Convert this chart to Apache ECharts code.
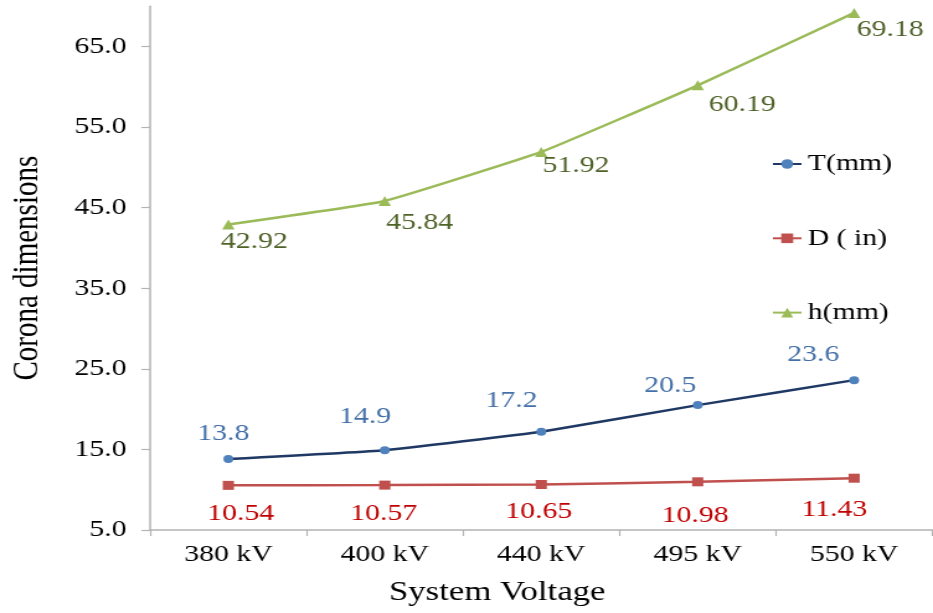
<!DOCTYPE html>
<html>
<head>
<meta charset="utf-8">
<title>Corona dimensions vs System Voltage</title>
<script src="https://cdn.jsdelivr.net/npm/echarts@6/dist/echarts.min.js"></script>
<style>
  html, body { margin: 0; padding: 0; background: #fff; overflow: hidden; }
  #wrap { width: 933px; height: 613px; overflow: hidden; }
  /* the figure is laid out at a narrower width and widened horizontally */
  #chart { width: 752px; height: 613px; transform: scaleX(1.2407); transform-origin: 0 0; }
</style>
</head>
<body>
<div id="wrap"><div id="chart"></div></div>
<script>
// Categories and series values
const voltages = ['380 kV', '400 kV', '440 kV', '495 kV', '550 kV'];
const tValues = [13.8, 14.9, 17.2, 20.5, 23.6];
const dValues = [10.54, 10.57, 10.65, 10.98, 11.43];
const hValues = [42.92, 45.84, 51.92, 60.19, 69.18];
const yTicks = [5, 15, 25, 35, 45, 55, 65];

// Hand-placed data label nudges [dx, dy] relative to each point
const tLabelShift = [[-4, -25], [-16, -34], [-24, -31], [-22, -19], [-33, -25]];
const dLabelShift = [[10, 28], [-1, 29], [-2, 27], [-2, 34], [-16, 32]];
const hLabelShift = [[21, 17], [28, 22], [28, 14], [36, 19], [29, 17]];

const FONT = '"Liberation Serif", "Times New Roman", serif';

function withLabels(values, shifts, color) {
  return values.map((v, i) => ({
    value: v,
    label: {
      show: true,
      position: 'inside',
      offset: shifts[i],
      align: 'center',
      verticalAlign: 'middle',
      color: color,
      fontFamily: FONT,
      fontSize: 24,
      formatter: String(v)
    }
  }));
}

const chart = echarts.init(document.getElementById('chart'), null, { renderer: 'canvas' });

chart.setOption({
  animation: false,
  backgroundColor: '#ffffff',
  textStyle: { fontFamily: FONT },
  grid: { left: 117.7, right: 0.5, top: 6.3, bottom: 83 },
  legend: {
    orient: 'vertical',
    left: 617,
    top: 147,
    itemWidth: 23,
    itemHeight: 12,
    itemGap: 50.3,
    textStyle: { fontFamily: FONT, fontSize: 24, color: '#000', lineHeight: 24 },
    data: ['T(mm)', 'D ( in)', 'h(mm)']
  },
  xAxis: {
    type: 'category',
    data: voltages,
    boundaryGap: true,
    name: 'System Voltage',
    nameLocation: 'middle',
    nameGap: 49,
    nameTextStyle: { fontFamily: FONT, fontSize: 28, color: '#000', padding: [0, 71, 0, 0] },
    axisLine: { lineStyle: { color: '#b3b3b3', width: 1.5 } },
    axisTick: { show: true, length: 6, alignWithLabel: false, lineStyle: { color: '#b3b3b3', width: 1.2 } },
    axisLabel: { margin: 13, fontFamily: FONT, fontSize: 24, color: '#000' },
    splitLine: { show: false }
  },
  yAxis: {
    type: 'value',
    min: 5,
    max: 70,
    interval: 10,
    name: 'Corona dimensions',
    nameLocation: 'middle',
    nameRotate: 90,
    nameGap: 84,
    nameTextStyle: { fontFamily: FONT, fontSize: 29, color: '#000' },
    axisLine: { show: true, lineStyle: { color: '#b3b3b3', width: 1.5 } },
    axisTick: { show: true, length: 7, customValues: yTicks, lineStyle: { color: '#b3b3b3', width: 1.2 } },
    axisLabel: {
      margin: 19,
      fontFamily: FONT,
      fontSize: 24,
      color: '#000',
      customValues: yTicks,
      formatter: v => v.toFixed(1)
    },
    splitLine: { show: false }
  },
  series: [
    {
      name: 'T(mm)',
      type: 'line',
      smooth: 0.1,
      data: withLabels(tValues, tLabelShift, '#4470a8'),
      symbol: 'circle',
      symbolSize: 8,
      lineStyle: { color: '#1f3864', width: 2.5 },
      itemStyle: { color: '#4f81bd' }
    },
    {
      name: 'D ( in)',
      type: 'line',
      smooth: 0.1,
      data: withLabels(dValues, dLabelShift, '#c00000'),
      symbol: 'rect',
      symbolSize: 9,
      lineStyle: { color: '#c0504d', width: 2.5 },
      itemStyle: { color: '#c0504d' }
    },
    {
      name: 'h(mm)',
      type: 'line',
      smooth: 0.1,
      data: withLabels(hValues, hLabelShift, '#4f6228'),
      symbol: 'triangle',
      symbolSize: 10,
      lineStyle: { color: '#9bbb59', width: 2.5 },
      itemStyle: { color: '#9bbb59' }
    }
  ]
});
</script>
</body>
</html>
